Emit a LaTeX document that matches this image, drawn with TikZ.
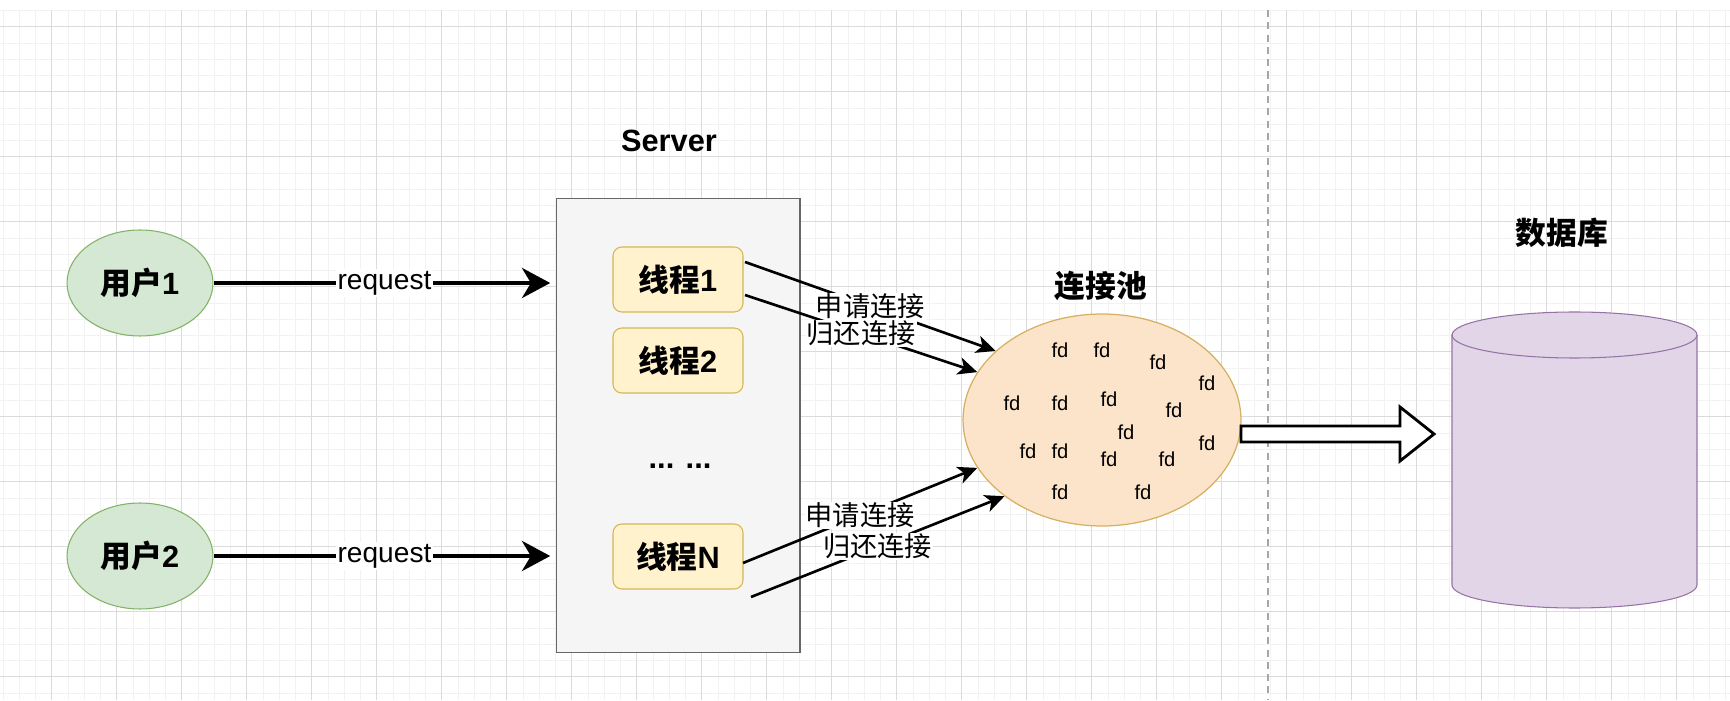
\documentclass[tikz,border=0pt]{standalone}
\usepackage{fontspec}
\setmainfont{Liberation Sans}
\newfontfamily\cjk{Noto Sans CJK SC}
\usetikzlibrary{arrows.meta,shapes.geometric}
\definecolor{ugreen}{HTML}{D5E8D4}
\definecolor{ugreenb}{HTML}{82B366}
\definecolor{sgray}{HTML}{F5F5F5}
\definecolor{sgrayb}{HTML}{666666}
\definecolor{tyel}{HTML}{FFF2CC}
\definecolor{tyelb}{HTML}{D6B656}
\definecolor{porange}{HTML}{FCE4CA}
\definecolor{porangeb}{HTML}{D6B060}
\definecolor{dbpurple}{HTML}{E1D5E7}
\definecolor{dbpurpleb}{HTML}{9673A6}
\begin{document}
\begin{tikzpicture}[x=0.02cm,y=0.02cm,
  minorgrid/.style={draw=gray!10,line width=0.4pt},
  majorgrid/.style={draw=gray!28,line width=0.6pt},
  user/.style={ellipse,draw=ugreenb,fill=ugreen,line width=0.6pt,minimum width=2.92cm,minimum height=2.12cm,inner sep=0pt,font=\bfseries\fontsize{17.5}{20}\selectfont},
  serverbox/.style={rectangle,draw=sgrayb,fill=sgray,line width=0.6pt,minimum width=4.88cm,minimum height=9.1cm,inner sep=0pt},
  thread/.style={rectangle,rounded corners=5pt,draw=tyelb,fill=tyel,line width=0.6pt,minimum width=2.6cm,minimum height=1.3cm,inner sep=0pt,font=\bfseries\fontsize{17.5}{20}\selectfont},
  titlelbl/.style={inner sep=0pt,font=\bfseries\fontsize{17.5}{20}\selectfont},
  poolnode/.style={ellipse,draw=porangeb,fill=porange,line width=0.7pt,minimum width=5.56cm,minimum height=4.24cm,inner sep=0pt},
  fdlbl/.style={inner sep=0pt,font=\fontsize{11.5}{13}\selectfont},
  req/.style={line width=2.8pt,-{Stealth[length=16pt,width=17pt,inset=5pt]},shorten >=3pt},
  reqlbl/.style={fill=white,inner sep=1pt,font=\fontsize{16}{18}\selectfont},
  conn/.style={line width=1.5pt,-{Stealth[length=11pt,width=10pt,inset=3pt]}},
  cnlbl/.style={fill=white,inner sep=0.5pt,font=\cjk\fontsize{15.5}{17}\selectfont},
  hollow/.style={draw=black,fill=white,line width=1.6pt,line join=miter},
  dbshape/.style={draw=dbpurpleb,fill=dbpurple,line width=0.6pt}
]
\useasboundingbox (0,0) rectangle (1730,700);
\fill[white] (0,0) rectangle (1730,700);
% grid
\foreach \i in {0,...,106} \draw[minorgrid] ({2.95+16.25*\i},0) -- ({2.95+16.25*\i},690);
\foreach \j in {0,...,42} \draw[minorgrid] (0,{689.55-16.25*\j}) -- (1730,{689.55-16.25*\j});
\foreach \i in {0,...,25} \draw[majorgrid] ({51.7+65*\i},0) -- ({51.7+65*\i},690);
\foreach \j in {0,...,10} \draw[majorgrid] (0,{673.3-65*\j}) -- (1730,{673.3-65*\j});
% dashed separator
\draw[gray!70,line width=0.6pt,dash pattern=on 4pt off 3pt] (1268,690) -- (1268,0);

% users
\node[user] (u1) at (140,417) {{\cjk 用户}1};
\node[user] (u2) at (140,144) {{\cjk 用户}2};

% server
\node[serverbox] (srv) at (678,274.5) {};
\node[titlelbl] (srvl) at (669,559) {Server};
\node[thread] (t1) at (678,420.5) {{\cjk 线程}1};
\node[thread] (t2) at (678,339.5) {{\cjk 线程}2};
\node[titlelbl] (dots) at (680,234) {... ...};
\node[thread] (tn) at (678,143.5) {{\cjk 线程}N};

% requests
\draw[req] (u1) -- (u1 -| srv.west) node[reqlbl,midway] {request};
\draw[req] (u2) -- (u2 -| srv.west) node[reqlbl,midway] {request};

% pool
\node[poolnode] (pool) at (1102,280) {};
\node[titlelbl] (pooll) at (1101,414) {\cjk 连接池};
\foreach \x/\y [count=\k] in {1060/350,1102/350,1158/338,1207/317,1012/297,1060/297,1109/301,1174/290,1126/268,1207/257,1028/249,1060/249,1109/241,1167/241,1060/208,1143/208}
  \node[fdlbl] (fd\k) at (\x,\y) {fd};

% thread -> pool connectors
\coordinate (s1) at (745,438);
\coordinate (s2) at (745,405);
\coordinate (s3) at (743,137);
\coordinate (s4) at (751,103);
\draw[conn] (s1) -- (pool.147.8) node[cnlbl,midway] {申请连接};
\draw[conn] (s2) -- (pool.159.3) node[cnlbl,midway] {归还连接};
\draw[conn] (s3) -- (pool.201) node[cnlbl,midway] {申请连接};
\draw[conn] (s4) -- (pool.218) node[cnlbl,midway] {归还连接};

% database
\path[dbshape] (1452,365) -- (1452,115) arc[start angle=180,end angle=360,x radius=2.45cm,y radius=0.46cm] -- (1697,365) arc[start angle=0,end angle=180,x radius=2.45cm,y radius=0.46cm] -- cycle;
\draw[dbpurpleb,line width=0.6pt] (1452,365) arc[start angle=180,end angle=360,x radius=2.45cm,y radius=0.46cm];
\coordinate (db) at (1574.5,240);
\node[titlelbl] (dbl) at (1562,467) {\cjk 数据库};

% hollow arrow pool -> db
\draw[hollow] (1241,274) -- (1400,274) -- (1400,293) -- (1434,266) -- (1400,239) -- (1400,258) -- (1241,258) -- cycle;
\end{tikzpicture}
\end{document}
